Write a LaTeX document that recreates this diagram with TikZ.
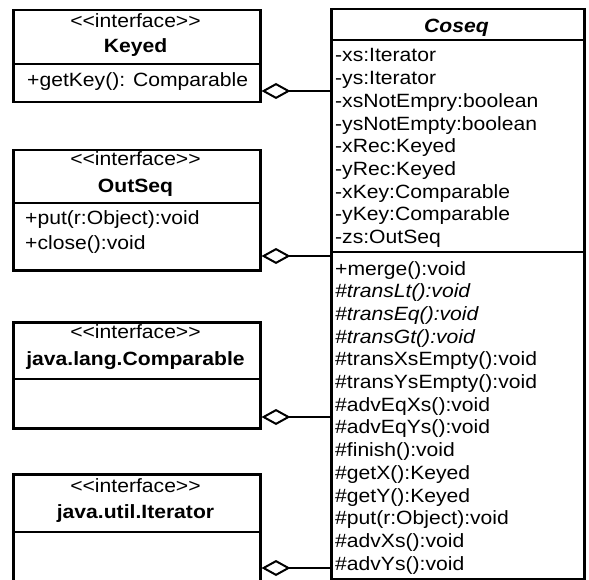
\documentclass[tikz,border=0pt]{standalone}
\usepackage{fontspec}
\setmainfont[FakeStretch=1.1]{Liberation Sans}
\usetikzlibrary{arrows.meta}
\newcommand\stereo{<\kern0pt<interface>\kern0pt>}
\begin{document}
\begin{tikzpicture}[x=1pt,y=-1pt,
  box/.style={draw,line width=2.5pt,anchor=north west,inner sep=0pt,minimum width=247pt},
  sep/.style={line width=2pt},
  txt/.style={anchor=base,inner sep=0pt,font=\fontsize{19.2}{22.7}\selectfont},
  ltxt/.style={txt,anchor=base west},
  aggr/.style={line width=2pt,-{Diamond[open,length=29pt,width=16pt,line width=2pt]}}]
\useasboundingbox (0,0) rectangle (589,580);

% interface boxes
\node[box,minimum height=92pt]  (keyed) at (12,9) {};
\node[box,minimum height=120pt] (outseq) at (12,149) {};
\node[box,minimum height=106pt] (comp) at (12,321) {};
\node[box,minimum height=135pt] (iter) at (12,473) {};
\draw[sep] (keyed.west |- 0,64) -- (keyed.east |- 0,64);
\draw[sep] (outseq.west |- 0,203) -- (outseq.east |- 0,203);
\draw[sep] (comp.west |- 0,379) -- (comp.east |- 0,379);
\draw[sep] (iter.west |- 0,532) -- (iter.east |- 0,532);

\node[txt] (keyedst) at (135.5,28) {\stereo};
\node[txt] (keyedname) at (135.5,53) {\bfseries Keyed};
\node[ltxt] (keyedm) at (27,87) {+getKey(): Comparable};

\node[txt] (outseqst) at (135.5,166) {\stereo};
\node[txt] (outseqname) at (135.5,193) {\bfseries OutSeq};
\node[ltxt] (outseqm1) at (25,225) {+put(r:Object):void};
\node[ltxt] (outseqm2) at (25,250) {+close():void};

\node[txt] (compst) at (135.5,338) {\stereo};
\node[txt] (compname) at (135.5,365) {\bfseries java.lang.Comparable};

\node[txt] (iterst) at (135.5,492) {\stereo};
\node[txt] (itername) at (135.5,518) {\bfseries java.util.Iterator};

% the Coseq class
\node[box,minimum width=253pt,minimum height=570pt] (coseq) at (330,8) {};
\draw[sep] (coseq.west |- 0,40) -- (coseq.east |- 0,40);
\draw[sep] (coseq.west |- 0,252) -- (coseq.east |- 0,252);
\node[txt] (coseqname) at (456.5,33) {\bfseries\itshape Coseq};

\foreach \t [count=\i] in {-xs:Iterator,-ys:Iterator,-xsNotEmpry:boolean,
    -ysNotEmpty:boolean,-xRec:Keyed,-yRec:Keyed,-xKey:Comparable,
    -yKey:Comparable,-zs:OutSeq}
  \node[ltxt] (attr\i) at (335,{39.3+22.7*\i}) {\t};

\foreach \t [count=\i] in {+merge():void,{\itshape\#transLt():void},
    {\itshape\#transEq():void},{\itshape\#transGt():void},
    \#transXsEmpty():void,\#transYsEmpty():void,\#advEqXs():void,
    \#advEqYs():void,\#finish():void,\#getX():Keyed,\#getY():Keyed,
    \#put(r:Object):void,\#advXs():void,\#advYs():void}
  \node[ltxt] (meth\i) at (335,{252.3+22.7*\i}) {\t};

% aggregations
\draw[aggr] (coseq.west |- 0,91)  -- (keyed.east |- 0,91);
\draw[aggr] (coseq.west |- 0,256) -- (outseq.east |- 0,256);
\draw[aggr] (coseq.west |- 0,417) -- (comp.east |- 0,417);
\draw[aggr] (coseq.west |- 0,568) -- (iter.east |- 0,568);
\end{tikzpicture}
\end{document}
